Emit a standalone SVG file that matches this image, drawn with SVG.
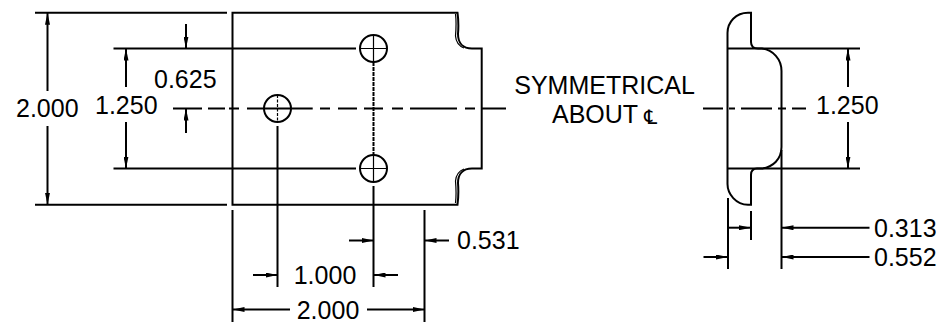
<svg xmlns="http://www.w3.org/2000/svg" width="937" height="326" viewBox="0 0 937 326">
<style>
.l{fill:none;stroke:#000;stroke-width:2}
.t{stroke-width:1.2}
.c{fill:#fff;stroke:#000;stroke-width:2}
text{font-family:"Liberation Sans",Arial,sans-serif;font-size:25px;fill:#000}
.m{text-anchor:middle}
</style>
<defs>
<marker id="a" viewBox="0 0 12 5" refX="12" refY="2.5" markerWidth="12" markerHeight="5" markerUnits="userSpaceOnUse" orient="auto-start-reverse"><path d="M0 0L12 2.5L0 5Z" fill="#000"/></marker>
</defs>
<g id="front-view">
<path class="l" d="M232.5 12.7H457.5C458.5 20 458.5 28 458 34C458 43 463 48.5 472 48.5H481.7V168.5H472C463 168.5 458 174 458 183C458.5 189 458.5 197 457.5 204.7H232.5Z"/>
<path class="l t" d="M455.5 14C456.5 22 456 30 455.5 36C456 42 459 46 464 48M455.5 203C456.5 195 456 187 455.5 181C456 175 459 171 464 169"/>
</g>
<g id="hole-left"><circle class="c" cx="277.5" cy="108.5" r="13.5"/><path class="l t" d="M277.5 95V122" stroke-dasharray="3 1.5"/></g>
<g id="hole-top"><circle class="c" cx="373.5" cy="48.5" r="13.5"/><path class="l t" d="M373.5 35V62M360 48.5H387"/></g>
<g id="hole-bottom"><circle class="c" cx="373.5" cy="168.5" r="13.5"/><path class="l t" d="M373.5 155V182M360 168.5H387"/></g>
<g id="side-view">
<path class="l" d="M751 12.7V42C751 46 753 48.5 758 48.5H762C773 50 781.5 59 781.5 71V147C781.5 159 773 167 762 168.5H757C753 168.5 751 171 751 175V204.7H748C736 204.7 727.5 194 727.5 184V33C727.5 22 736 12.7 748 12.7Z"/>
</g>
<g id="connectors">
<path class="l" d="M35 12.7H227M35 204.7H227M113.5 48.5H356M113.5 168.5H356M173 108.5H202M208 108.5H225M229 108.5H239M247 108.5H312.7M320 108.5H330M338 108.5H357M364 108.5H383M392 108.5H403M410 108.5H457M465 108.5H475M482 108.5H506"/>
<path class="l" d="M373.5 62V155" stroke-dasharray="4 1"/>
<path class="l" d="M703 108.5H723M729 108.5H735M741 108.5H772M778 108.5H786M792 108.5H806"/>
<path class="l" d="M727.5 48.5H860M727.5 168.5H860"/>
<path class="l" d="M232.5 210V322M277.5 126V287M373.5 186V287M424.5 210V322M728 198V269M751 211V240M781.5 150V269"/>
<path class="l" marker-end="url(#a)" d="M47.5 91V12.7"/>
<path class="l" marker-end="url(#a)" d="M47.5 126V204.7"/>
<path class="l" marker-end="url(#a)" d="M126 87V48.5"/>
<path class="l" marker-end="url(#a)" d="M126 122V168.5"/>
<path class="l" marker-end="url(#a)" d="M186 24V48.5"/>
<path class="l" marker-end="url(#a)" d="M186 133V108.5"/>
<path class="l" marker-end="url(#a)" d="M349 240.5H373.5"/>
<path class="l" marker-end="url(#a)" d="M449 240.5H424.5"/>
<path class="l" marker-end="url(#a)" d="M253 275H277.5"/>
<path class="l" marker-end="url(#a)" d="M398 275H373.5"/>
<path class="l" marker-end="url(#a)" d="M290 309.5H232.5"/>
<path class="l" marker-end="url(#a)" d="M367 309.5H424.5"/>
<path class="l" marker-end="url(#a)" d="M848 87V48.5"/>
<path class="l" marker-end="url(#a)" d="M848 122V168.5"/>
<path class="l" marker-end="url(#a)" d="M727 227.7H751"/>
<path class="l" marker-end="url(#a)" d="M869.5 227.7H781.5"/>
<path class="l" marker-end="url(#a)" d="M703.5 257H728"/>
<path class="l" marker-end="url(#a)" d="M869.5 257H781.5"/>
</g>
<g id="labels">
<text x="16" y="117">2.000</text>
<text x="95" y="114">1.250</text>
<text x="154" y="88">0.625</text>
<text x="604.5" y="94" class="m">SYMMETRICAL</text>
<text x="552" y="123">ABOUT</text>
<text x="644" y="124" style="font-family:'DejaVu Sans',sans-serif;font-size:20px">℄</text>
<text x="816" y="114">1.250</text>
<text x="874" y="237">0.313</text>
<text x="874" y="266">0.552</text>
<text x="457" y="249">0.531</text>
<text x="325" y="284" class="m">1.000</text>
<text x="328" y="319" class="m">2.000</text>
</g>
</svg>
